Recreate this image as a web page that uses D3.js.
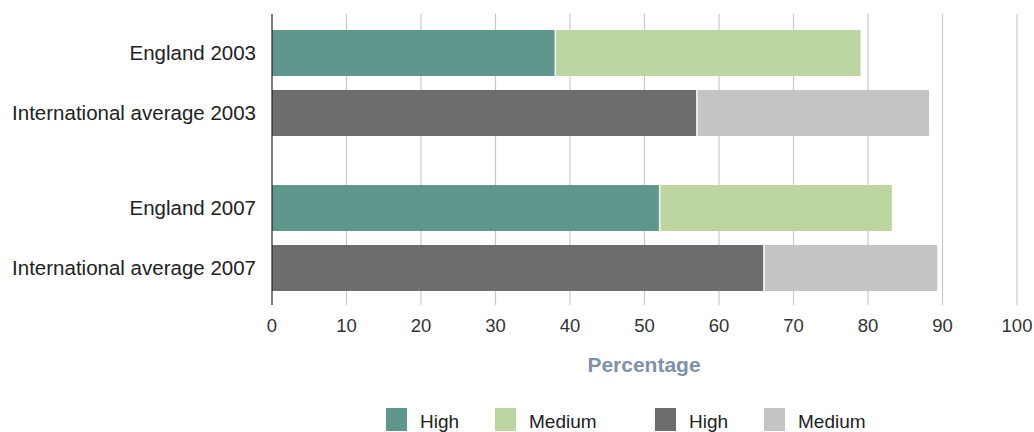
<!DOCTYPE html>
<html><head><meta charset="utf-8">
<script src="https://cdn.jsdelivr.net/npm/d3@7"></script>
<style>
body{margin:0;background:#fff;}
text{font-family:"Liberation Sans",Arial,sans-serif;}
</style></head>
<body><svg id="c" width="1034" height="432"></svg>
<script>
const categories = ["England 2003","International average 2003","England 2007","International average 2007"];
const groups = ["2003","2003","2007","2007"];
const highValues = [38, 57, 52, 66];
const mediumValues = [41, 31.2, 31.2, 23.3];
const seriesIsEngland = [true, false, true, false];
const tickValues = [0,10,20,30,40,50,60,70,80,90,100];
const legendLabels = ["High","Medium","High","Medium"];
const legendColors = ["#5f978c","#bdd5a0","#6d6d6b","#c4c4c4"];

const svg = d3.select("#c");
const x = d3.scaleLinear().domain([0,100]).range([272,1017]);
const outer = d3.scaleBand().domain(["2003","2007"]).range([23,298]).paddingInner(0.226).paddingOuter(0);
const inner = d3.scaleBand().domain([0,1]).range([0, outer.bandwidth()]).paddingInner(0.233).paddingOuter(0.117);
const yPos = i => outer(groups[i]) + inner(i % 2);
const bh = inner.bandwidth();

// gridlines
svg.append("g").selectAll("line").data(tickValues.filter(d=>d>0)).join("line")
  .attr("x1",d=>x(d)).attr("x2",d=>x(d)).attr("y1",14).attr("y2",305)
  .attr("stroke","#c8c8c8").attr("stroke-width",1.2);

// bars
const rows = categories.map((c,i)=>({c,i,h:highValues[i],m:mediumValues[i],eng:seriesIsEngland[i]}));
const g = svg.append("g");
g.selectAll("rect.h").data(rows).join("rect").attr("class","h")
  .attr("x",x(0)).attr("y",d=>yPos(d.i)).attr("height",bh)
  .attr("width",d=>x(d.h)-x(0)-0.5)
  .attr("fill",d=>d.eng?legendColors[0]:legendColors[2]);
g.selectAll("rect.m").data(rows).join("rect").attr("class","m")
  .attr("x",d=>x(d.h)+1).attr("y",d=>yPos(d.i)).attr("height",bh)
  .attr("width",d=>x(d.h+d.m)-x(d.h)-1)
  .attr("fill",d=>d.eng?legendColors[1]:legendColors[3]);

// axis line
svg.append("line").attr("x1",x(0)).attr("x2",x(0)).attr("y1",14).attr("y2",305)
  .attr("stroke","#222").attr("stroke-width",1.2);

// tick labels
svg.append("g").selectAll("text").data(tickValues).join("text")
  .attr("x",d=>x(d)).attr("y",332).attr("text-anchor","middle")
  .attr("font-size",18.5).attr("fill","#333").text(d=>d);

// category labels
svg.append("g").selectAll("text").data(rows).join("text")
  .attr("x",256).attr("y",d=>yPos(d.i)+bh/2).attr("dy","0.35em")
  .attr("text-anchor","end").attr("font-size",20.5).attr("fill","#222").text(d=>d.c);

// axis title
svg.append("text").attr("x",644).attr("y",371.5).attr("text-anchor","middle")
  .attr("font-size",21).attr("font-weight","bold").attr("fill","#7d92a8").text("Percentage");

// legend
const legX = [386,495,655,764];
const lg = svg.append("g").selectAll("g").data(legendLabels).join("g")
  .attr("transform",(d,i)=>`translate(${legX[i]},408)`);
lg.append("rect").attr("width",21).attr("height",23).attr("fill",(d,i)=>legendColors[i]);
lg.append("text").attr("x",34).attr("y",20).attr("font-size",19).attr("fill","#222").text(d=>d);
</script></body></html>
